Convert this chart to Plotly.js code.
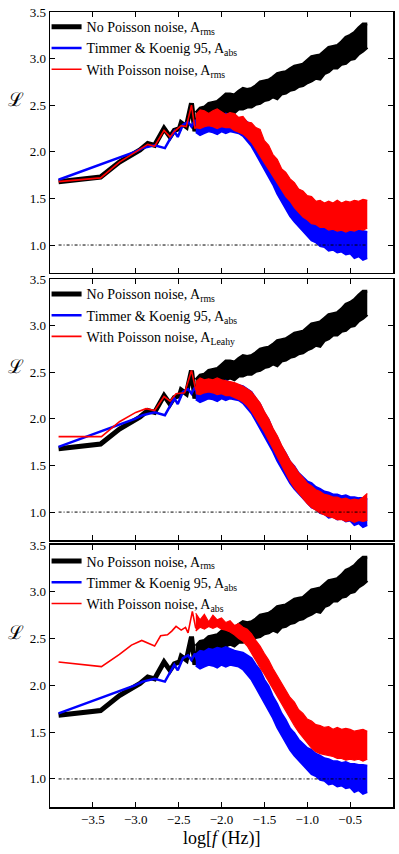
<!DOCTYPE html>
<html>
<head>
<meta charset="utf-8">
<script src="https://cdn.plot.ly/plotly-3.0.1.min.js"></script>
<style>
	html, body { margin: 0; padding: 0; background: #fff; }
	#plot { width: 399px; height: 854px; }
</style>
</head>
<body>
<div id="plot"></div>
<script>

// low-frequency part (same black / blue curve in all panels)
const blackLowX = [ -3.90, -3.41, -3.19, -3.03, -2.95, -2.86, -2.78, -2.67, -2.60, -2.55, -2.49, -2.47, -2.41, -2.35, -2.31, -2.28, -2.26, -2.24, -2.21, -2.18, -2.14, -2.12, -2.10 ];
const blackLowY = [ 1.68, 1.73, 1.89, 1.98, 2.02, 2.09, 2.07, 2.25, 2.16, 2.23, 2.25, 2.31, 2.27, 2.52, 2.22, 2.36, 2.30, 2.45, 2.32, 2.40, 2.51, 2.36, 2.44 ];

const blueLowX = [ -3.90, -3.01, -2.92, -2.78, -2.66, -2.60, -2.55, -2.51, -2.45, -2.39, -2.35, -2.31, -2.26 ];
const blueLowY = [ 1.70, 2.00, 2.04, 2.07, 2.04, 2.14, 2.22, 2.16, 2.29, 2.32, 2.27, 2.34, 2.20 ];

const red1LowX = [ -3.90, -3.41, -3.19, -3.03, -2.95, -2.86, -2.78, -2.67, -2.60, -2.55, -2.47, -2.41, -2.35, -2.31, -2.26 ];
const red1LowY = [ 1.68, 1.72, 1.89, 1.98, 2.02, 2.08, 2.06, 2.23, 2.16, 2.22, 2.28, 2.27, 2.50, 2.25, 2.30 ];

const red2LowX = [ -3.90, -3.40, -3.19, -3.00, -2.88, -2.78, -2.67, -2.60, -2.53, -2.43, -2.35, -2.30, -2.26 ];
const red2LowY = [ 1.81, 1.81, 1.97, 2.07, 2.11, 2.09, 2.24, 2.19, 2.27, 2.28, 2.52, 2.31, 2.36 ];

const red3LowX = [ -3.90, -3.40, -3.19, -3.05, -2.93, -2.78, -2.71, -2.63, -2.58, -2.53, -2.47, -2.42, -2.39, -2.34, -2.30, -2.26 ];
const red3LowY = [ 2.25, 2.20, 2.33, 2.43, 2.48, 2.42, 2.53, 2.54, 2.58, 2.63, 2.59, 2.62, 2.56, 2.79, 2.61, 2.70 ];

// noisy high-frequency part: envelope of each band
const bandX = [ -2.30, -2.25, -2.20, -2.15, -2.10, -2.05, -2.00, -1.95, -1.90, -1.85, -1.80, -1.75, -1.70, -1.65, -1.60, -1.55, -1.50, -1.45, -1.40, -1.35, -1.30, -1.25, -1.20, -1.15, -1.10, -1.05, -1.00, -0.95, -0.90, -0.85, -0.80, -0.75, -0.70, -0.65, -0.60, -0.55, -0.50, -0.45, -0.40, -0.35, -0.30 ];

const blackUpper = [ 2.42, 2.47, 2.48, 2.52, 2.53, 2.54, 2.58, 2.62, 2.62, 2.61, 2.65, 2.68, 2.67, 2.68, 2.71, 2.75, 2.76, 2.77, 2.80, 2.84, 2.85, 2.86, 2.89, 2.92, 2.93, 2.94, 2.98, 3.02, 3.03, 3.04, 3.08, 3.12, 3.13, 3.14, 3.18, 3.23, 3.25, 3.28, 3.33, 3.37, 3.37 ];
const blackLower = [ 2.32, 2.32, 2.35, 2.35, 2.38, 2.38, 2.41, 2.42, 2.44, 2.42, 2.46, 2.46, 2.48, 2.48, 2.51, 2.52, 2.55, 2.56, 2.59, 2.57, 2.62, 2.63, 2.66, 2.67, 2.70, 2.71, 2.74, 2.76, 2.79, 2.78, 2.84, 2.86, 2.90, 2.90, 2.94, 2.95, 2.99, 3.00, 3.05, 3.08, 3.12 ];

const blueUpper = [ 2.33, 2.37, 2.36, 2.39, 2.38, 2.40, 2.39, 2.41, 2.39, 2.37, 2.36, 2.35, 2.32, 2.29, 2.22, 2.16, 2.06, 1.99, 1.88, 1.80, 1.70, 1.63, 1.54, 1.49, 1.42, 1.38, 1.33, 1.31, 1.27, 1.25, 1.22, 1.21, 1.19, 1.19, 1.17, 1.18, 1.16, 1.16, 1.15, 1.15, 1.14 ];
const blueLower = [ 2.21, 2.18, 2.20, 2.22, 2.21, 2.19, 2.22, 2.20, 2.22, 2.21, 2.20, 2.17, 2.12, 2.06, 1.98, 1.90, 1.82, 1.73, 1.65, 1.55, 1.47, 1.38, 1.31, 1.25, 1.20, 1.14, 1.10, 1.05, 1.03, 0.99, 0.98, 0.94, 0.95, 0.92, 0.93, 0.90, 0.91, 0.86, 0.88, 0.84, 0.86 ];

const red1Upper = [ 2.40, 2.45, 2.44, 2.41, 2.44, 2.46, 2.43, 2.40, 2.42, 2.41, 2.37, 2.38, 2.32, 2.31, 2.26, 2.24, 2.12, 2.07, 1.97, 1.92, 1.82, 1.78, 1.71, 1.67, 1.60, 1.58, 1.53, 1.52, 1.47, 1.48, 1.45, 1.47, 1.45, 1.48, 1.45, 1.47, 1.46, 1.48, 1.47, 1.49, 1.48 ];
const red1Lower = [ 2.26, 2.25, 2.27, 2.28, 2.27, 2.25, 2.27, 2.26, 2.26, 2.23, 2.21, 2.19, 2.15, 2.10, 2.03, 1.95, 1.88, 1.81, 1.74, 1.66, 1.59, 1.52, 1.47, 1.40, 1.35, 1.30, 1.27, 1.23, 1.22, 1.19, 1.19, 1.16, 1.17, 1.15, 1.16, 1.14, 1.16, 1.15, 1.17, 1.16, 1.18 ];

const red2Upper = [ 2.40, 2.44, 2.42, 2.43, 2.42, 2.44, 2.42, 2.41, 2.40, 2.39, 2.37, 2.35, 2.32, 2.29, 2.23, 2.17, 2.08, 2.00, 1.90, 1.82, 1.72, 1.64, 1.55, 1.49, 1.42, 1.37, 1.31, 1.28, 1.24, 1.22, 1.19, 1.18, 1.16, 1.16, 1.14, 1.15, 1.13, 1.14, 1.13, 1.16, 1.20 ];
const red2Lower = [ 2.27, 2.26, 2.28, 2.29, 2.28, 2.26, 2.27, 2.25, 2.25, 2.23, 2.21, 2.18, 2.14, 2.08, 2.01, 1.93, 1.86, 1.77, 1.68, 1.59, 1.50, 1.41, 1.33, 1.26, 1.20, 1.14, 1.09, 1.05, 1.02, 0.99, 0.97, 0.95, 0.94, 0.92, 0.92, 0.90, 0.91, 0.89, 0.91, 0.90, 0.91 ];

const red3Upper = [ 2.77, 2.70, 2.76, 2.68, 2.75, 2.70, 2.72, 2.67, 2.69, 2.64, 2.66, 2.62, 2.60, 2.55, 2.48, 2.42, 2.34, 2.27, 2.18, 2.10, 2.02, 1.95, 1.87, 1.82, 1.74, 1.70, 1.64, 1.62, 1.58, 1.57, 1.55, 1.56, 1.53, 1.55, 1.53, 1.54, 1.53, 1.51, 1.52, 1.53, 1.51 ];
const red3Lower = [ 2.58, 2.62, 2.60, 2.63, 2.61, 2.63, 2.60, 2.59, 2.57, 2.54, 2.50, 2.47, 2.42, 2.34, 2.26, 2.19, 2.12, 2.04, 1.96, 1.88, 1.80, 1.72, 1.65, 1.57, 1.50, 1.44, 1.38, 1.33, 1.29, 1.27, 1.26, 1.25, 1.24, 1.22, 1.22, 1.20, 1.21, 1.20, 1.21, 1.19, 1.21 ];

const refX = [ -3.9, -0.3 ];
const refY = [ 1.0, 1.0 ];

const blackLabel = 'No Poisson noise, A<sub>rms</sub>';
const blueLabel = 'Timmer &amp; Koenig 95, A<sub>abs</sub>';
const redLabels = [
	'With Poisson noise, A<sub>rms</sub>',
	'With Poisson noise, A<sub>Leahy</sub>',
	'With Poisson noise, A<sub>abs</sub>'
];

const xTicks = [ -3.5, -3.0, -2.5, -2.0, -1.5, -1.0, -0.5 ];
const yTicks = [ 1.0, 1.5, 2.0, 2.5, 3.0, 3.5 ];

const BLACK = '#000000';
const BLUE = '#0000ff';
const RED = '#ff0000';
const FONT = 'Liberation Serif, Times New Roman, serif';


/**
 * Band made of a lower envelope and an upper envelope filled to it.
 */
function band( xa, ya, x, lower, upper, color, width ) {

	const common = {
		x: x,
		mode: 'lines',
		xaxis: xa,
		yaxis: ya,
		showlegend: false,
		hoverinfo: 'skip',
		line: { color: color, width: width }
	};

	return [
		Object.assign( { y: lower }, common ),
		Object.assign( { y: upper, fill: 'tonexty', fillcolor: color }, common )
	];

}

function panelTraces( i, redX, redY, redLo, redUp ) {

	const n = i === 0 ? '' : String( i + 1 );
	const xa = 'x' + n;
	const ya = 'y' + n;
	const lg = 'legend' + n;

	let traces = [];

	traces = traces.concat( band( xa, ya, bandX, blackLower, blackUpper, BLACK, 3 ) );
	traces.push( {
		x: blackLowX, y: blackLowY, mode: 'lines', xaxis: xa, yaxis: ya, legend: lg,
		name: blackLabel, line: { color: BLACK, width: 5 }
	} );

	traces = traces.concat( band( xa, ya, bandX, blueLower, blueUpper, BLUE, 2 ) );
	traces.push( {
		x: blueLowX, y: blueLowY, mode: 'lines', xaxis: xa, yaxis: ya, legend: lg,
		name: blueLabel, line: { color: BLUE, width: 2.5 }
	} );

	traces = traces.concat( band( xa, ya, bandX, redLo, redUp, RED, 1.2 ) );
	traces.push( {
		x: redX, y: redY, mode: 'lines', xaxis: xa, yaxis: ya, legend: lg,
		name: redLabels[ i ], line: { color: RED, width: 1.6 }
	} );

	traces.push( {
		x: refX, y: refY, mode: 'lines', xaxis: xa, yaxis: ya, showlegend: false,
		line: { color: BLACK, width: 1, dash: '3px,2px,1px,2px' }
	} );

	return traces;

}

let data = [];
data = data.concat( panelTraces( 0, red1LowX, red1LowY, red1Lower, red1Upper ) );
data = data.concat( panelTraces( 1, red2LowX, red2LowY, red2Lower, red2Upper ) );
data = data.concat( panelTraces( 2, red3LowX, red3LowY, red3Lower, red3Upper ) );

const domains = [ [ 0.6717, 1.0 ], [ 0.3358, 0.664 ], [ 0.0, 0.3296 ] ];

function xAxis( anchor, labels ) {
	return {
		domain: [ 0, 1 ],
		anchor: anchor,
		range: [ -4.0, 0.0 ],
		tickvals: xTicks,
		ticktext: xTicks.map( v => v.toFixed( 1 ).replace( '-', '\u2212' ) ),
		showticklabels: labels,
		ticks: 'inside',
		ticklen: 5,
		tickcolor: BLACK,
		showline: true,
		linecolor: BLACK,
		linewidth: 1.5,
		mirror: 'allticks',
		showgrid: false,
		zeroline: false,
		tickfont: { family: FONT, size: 13, color: BLACK }
	};
}

function yAxis( anchor, domain ) {
	return {
		domain: domain,
		anchor: anchor,
		range: [ 0.7, 3.5 ],
		tickvals: yTicks,
		ticktext: yTicks.map( v => v.toFixed( 1 ) ),
		ticks: 'inside',
		ticklen: 5,
		tickcolor: BLACK,
		showline: true,
		linecolor: BLACK,
		linewidth: 1.5,
		mirror: 'allticks',
		showgrid: false,
		zeroline: false,
		tickfont: { family: FONT, size: 13, color: BLACK }
	};
}

function legendAt( y ) {
	return {
		x: -0.01,
		y: y,
		xanchor: 'left',
		yanchor: 'top',
		bgcolor: 'rgba(0,0,0,0)',
		borderwidth: 0,
		itemwidth: 30,
		traceorder: 'normal',
		font: { family: FONT, size: 14, color: BLACK },
		tracegroupgap: 0
	};
}

const layout = {
	width: 399,
	height: 854,
	margin: { l: 50, r: 6, t: 12, b: 47 },
	paper_bgcolor: '#ffffff',
	plot_bgcolor: '#ffffff',
	showlegend: true,
	xaxis: xAxis( 'y', false ),
	yaxis: yAxis( 'x', domains[ 0 ] ),
	xaxis2: xAxis( 'y2', false ),
	yaxis2: yAxis( 'x2', domains[ 1 ] ),
	xaxis3: xAxis( 'y3', true ),
	yaxis3: yAxis( 'x3', domains[ 2 ] ),
	legend: legendAt( 1.001 ),
	legend2: legendAt( 0.665 ),
	legend3: legendAt( 0.329 ),
	annotations: [
		{ text: '\u2112', xref: 'paper', yref: 'paper', x: -0.1, y: 0.89, xanchor: 'center', yanchor: 'middle', showarrow: false, font: { family: 'DejaVu Serif', size: 19, color: BLACK } },
		{ text: '\u2112', xref: 'paper', yref: 'paper', x: -0.1, y: 0.555, xanchor: 'center', yanchor: 'middle', showarrow: false, font: { family: 'DejaVu Serif', size: 19, color: BLACK } },
		{ text: '\u2112', xref: 'paper', yref: 'paper', x: -0.1, y: 0.22, xanchor: 'center', yanchor: 'middle', showarrow: false, font: { family: 'DejaVu Serif', size: 19, color: BLACK } },
		{ text: 'log[<i>f</i> (Hz)]', xref: 'paper', yref: 'paper', x: 0.5, y: -0.039, xanchor: 'center', yanchor: 'middle', showarrow: false, font: { family: FONT, size: 18, color: BLACK } }
	]
};

Plotly.newPlot( 'plot', data, layout, { staticPlot: true } );

</script>
</body>
</html>
